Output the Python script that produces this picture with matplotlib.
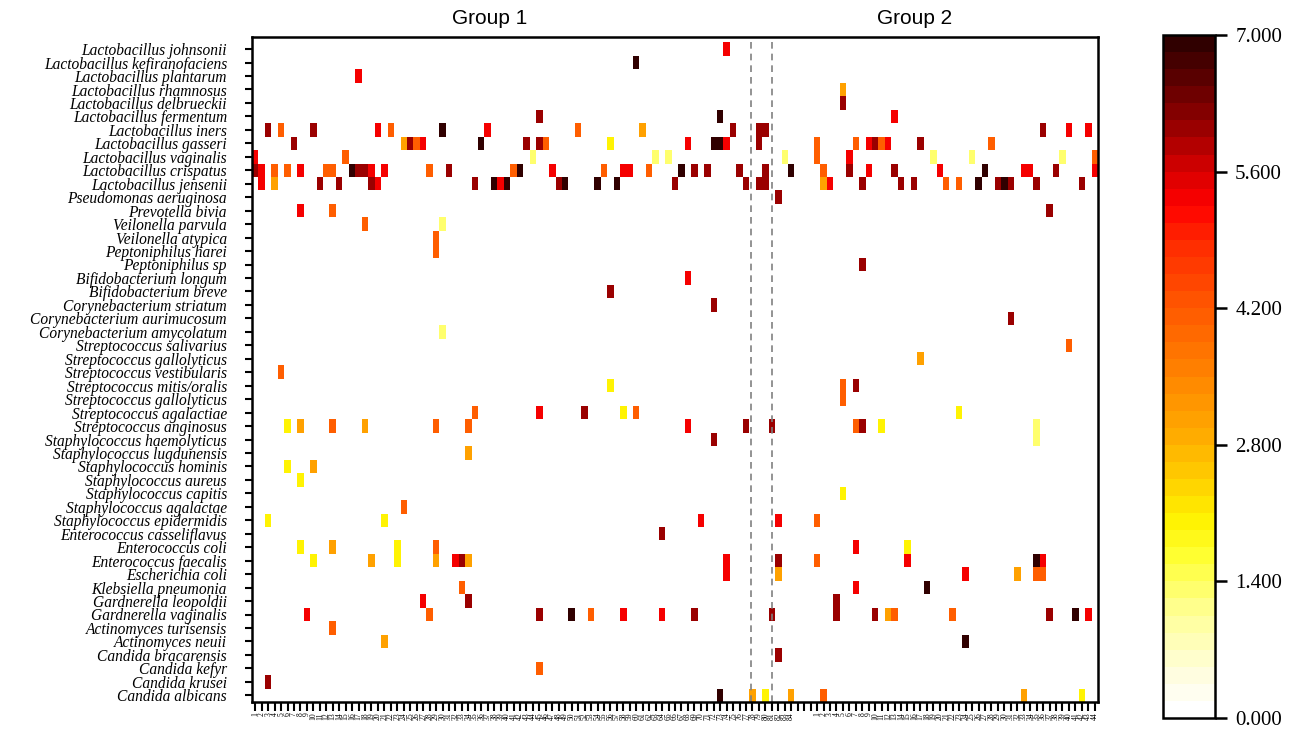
import numpy as np
import matplotlib
matplotlib.use("Agg")
import matplotlib.pyplot as plt
from matplotlib.colors import LinearSegmentedColormap

# rows of the heatmap, top to bottom
species = [
    "Lactobacillus johnsonii", "Lactobacillus kefiranofaciens", "Lactobacillus plantarum",
    "Lactobacillus rhamnosus", "Lactobacillus delbrueckii", "Lactobacillus fermentum",
    "Lactobacillus iners", "Lactobacillus gasseri", "Lactobacillus vaginalis",
    "Lactobacillus crispatus", "Lactobacillus jensenii", "Pseudomonas aeruginosa",
    "Prevotella bivia", "Veilonella parvula", "Veilonella atypica", "Peptoniphilus harei",
    "Peptoniphilus sp", "Bifidobacterium longum", "Bifidobacterium breve",
    "Corynebacterium striatum", "Corynebacterium aurimucosum", "Corynebacterium amycolatum",
    "Streptococcus salivarius", "Streptococcus gallolyticus", "Streptococcus vestibularis",
    "Streptococcus mitis/oralis", "Streptococcus gallolyticus", "Streptococcus agalactiae",
    "Streptococcus anginosus", "Staphylococcus haemolyticus", "Staphylococcus lugdunensis",
    "Staphylococcus hominis", "Staphylococcus aureus", "Staphylococcus capitis",
    "Staphylococcus agalactae", "Staphylococcus epidermidis", "Enterococcus casseliflavus",
    "Enterococcus coli", "Enterococcus faecalis", "Escherichia coli", "Klebsiella pneumonia",
    "Gardnerella leopoldii", "Gardnerella vaginalis", "Actinomyces turisensis",
    "Actinomyces neuii", "Candida bracarensis", "Candida kefyr", "Candida krusei",
    "Candida albicans",
]

n_group1 = 84
n_gap = 3
n_group2 = 44
x_labels = [str(i) for i in range(1, n_group1 + 1)] + [""] * n_gap + \
           [str(i) for i in range(1, n_group2 + 1)]

# abundance levels
DK, DR, RD, OR, AM, YE, LY = 6.9, 6.1, 5.3, 4.1, 3.0, 2.0, 1.3

# sample column of each coloured cell, per species row
hit_cols = [
    [73], [59], [16], [91], [91], [44, 72, 99],
    [2, 4, 9, 19, 21, 29, 36, 50, 60, 74, 78, 79, 122, 126, 129],
    [6, 23, 24, 25, 26, 35, 42, 44, 45, 55, 67, 71, 72, 73, 78, 87, 93, 95, 96, 97, 98, 103, 114],
    [0, 14, 43, 62, 64, 82, 87, 92, 105, 111, 125, 130],
    [0, 1, 3, 5, 7, 11, 12, 15, 16, 17, 18, 20, 27, 30, 40, 41, 46, 54, 57, 58, 61, 66, 68, 70,
     75, 79, 83, 88, 92, 95, 99, 106, 113, 119, 120, 124, 130],
    [1, 3, 10, 13, 18, 19, 34, 37, 38, 39, 47, 48, 53, 56, 65, 76, 78, 79, 88, 89, 94, 100, 102,
     107, 109, 112, 115, 116, 117, 121, 128],
    [81], [7, 12, 123], [17, 29], [28], [28], [94], [67], [55], [71], [117], [29],
    [126], [103], [4], [55, 91, 93], [91], [34, 44, 51, 57, 59, 109],
    [5, 7, 12, 17, 28, 33, 67, 76, 80, 93, 94, 97, 121],
    [71, 121], [33], [5, 9], [7], [91], [23], [2, 20, 69, 81, 87], [63],
    [7, 12, 22, 28, 93, 101],
    [9, 18, 22, 28, 31, 32, 33, 73, 81, 87, 101, 121, 122],
    [73, 81, 110, 118, 121, 122], [32, 93, 104], [26, 33, 90],
    [8, 27, 44, 49, 52, 57, 63, 68, 80, 90, 96, 98, 99, 108, 123, 127, 129],
    [12], [20, 110], [81], [44], [2],
    [72, 77, 79, 83, 88, 119, 128],
]

hit_vals = [
    [RD], [DK], [RD], [AM], [DR], [DR, DK, RD],
    [DR, OR, DR, RD, OR, DK, RD, OR, AM, DR, DR, DR, DR, RD, RD],
    [DR, AM, DR, OR, RD, DK, DR, DR, OR, YE, RD, DK, DK, RD, DR, OR, OR, RD, DR, OR, RD, DR, OR],
    [RD, OR, LY, LY, LY, LY, OR, RD, LY, LY, LY, OR],
    [DR, RD, OR, OR, RD, OR, OR, DK, DR, DR, RD, RD, OR, DR, OR, DK, RD, OR, RD, RD, OR, DK, DR, DR,
     DR, DR, DK, OR, DR, RD, DR, RD, DK, RD, RD, DR, RD],
    [RD, AM, DR, DR, DR, RD, DR, DK, RD, DK, DR, DK, DK, DK, DR, DR, DR, DR, AM, RD, DR, DR, DR,
     OR, OR, DK, DR, DK, DR, DR, DR],
    [DR], [RD, OR, DR], [OR, LY], [OR], [OR], [DR], [RD], [DR], [DR], [DR], [LY],
    [OR], [AM], [OR], [YE, OR, DR], [OR], [OR, RD, DR, YE, OR, YE],
    [YE, AM, OR, AM, OR, OR, RD, DR, DR, OR, DR, YE, LY],
    [DR, LY], [AM], [YE, AM], [YE], [YE], [OR], [YE, YE, RD, RD, OR], [DR],
    [YE, AM, YE, OR, RD, YE],
    [YE, AM, YE, AM, RD, DR, AM, RD, DR, OR, RD, DK, RD],
    [RD, AM, RD, AM, OR, OR], [OR, RD, DK], [RD, DR, DR],
    [RD, OR, DR, DK, OR, RD, RD, DR, DR, DR, DR, AM, OR, OR, DR, DK, RD],
    [OR], [AM, DK], [DR], [OR], [DR],
    [DK, AM, YE, AM, OR, AM, YE],
]

# colour stops of the scale (value, colour)
stop_vals = [0, 0.3, 1.0, 1.6, 2.0, 2.4, 2.9, 3.5, 4.2, 4.9, 5.3, 5.7, 6.2, 7.0]
stop_cols = ["#ffffff", "#fffde6", "#ffff99", "#ffff33", "#fff200", "#ffd000", "#ffaa00",
             "#ff8500", "#ff5a00", "#ff2a00", "#ff0000", "#d20000", "#8c0000", "#300000"]

n_cols = n_group1 + n_gap + n_group2
grid = np.zeros((len(species), n_cols))
for r in range(len(species)):
    grid[r, hit_cols[r]] = hit_vals[r]

cmap = LinearSegmentedColormap.from_list(
    "abund", list(zip(np.array(stop_vals) / 7.0, stop_cols)), N=40)

W, H = 1298, 735
fig = plt.figure(figsize=(W / 100, H / 100), dpi=100)
ax = fig.add_axes([252 / W, 1 - 702 / H, 846 / W, 665 / H])

mesh = ax.pcolormesh(np.arange(n_cols + 1), np.arange(len(species) + 1), grid,
                     cmap=cmap, vmin=0, vmax=7, shading="flat")
ax.set_xlim(0, n_cols)
ax.set_ylim(len(species), -0.4)

ax.set_yticks(np.arange(len(species)) + 0.5)
ax.set_yticklabels(species, family="Liberation Serif", style="italic", fontsize=11.2)
ax.set_xticks(np.arange(n_cols) + 0.5)
ax.set_xticklabels(x_labels, rotation=90, fontsize=5.5, family="Liberation Serif")
ax.tick_params(axis="y", length=5, width=1.5, pad=13)
ax.tick_params(axis="x", length=6.5, width=1.5, pad=1)
for s in ax.spines.values():
    s.set_linewidth(1.8)

# dashed box around the shared samples
for xv in (77.2, 80.5):
    ax.axvline(xv, color="#808080", lw=1.2, ls=(0, (4, 3)))

fig.text(490 / W, 1 - 19 / H, "Group 1", ha="center", va="center",
         fontsize=15, family="Liberation Sans")
fig.text(915 / W, 1 - 19 / H, "Group 2", ha="center", va="center",
         fontsize=15, family="Liberation Sans")

cax = fig.add_axes([1163 / W, 1 - 718 / H, 52 / W, 683 / H])
cb = fig.colorbar(mesh, cax=cax, ticks=np.linspace(0, 7, 6))
cb.ax.yaxis.set_major_formatter("{x:.3f}")
cb.outline.set_linewidth(1.8)
cb.ax.tick_params(length=8.5, width=1.8, pad=6)
for t in cb.ax.get_yticklabels():
    t.set_family("Liberation Serif")
    t.set_fontsize(15)

fig.savefig("out.png", dpi=100)
